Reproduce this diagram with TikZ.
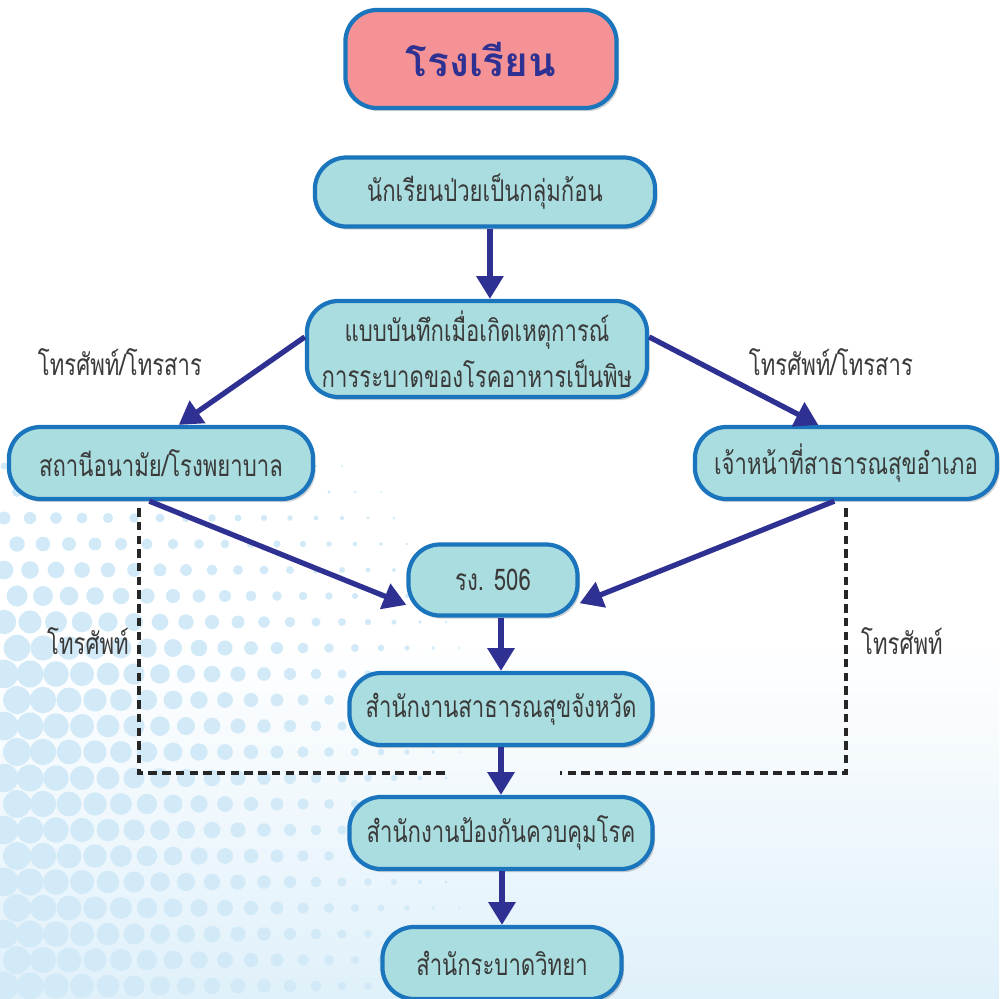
\documentclass[tikz,border=0pt]{standalone}
\usepackage{fontspec}
\setmainfont[Script=Thai, FakeStretch=0.74]{Loma}
\newfontfamily\titlefont[Script=Thai]{Loma}
\usetikzlibrary{arrows.meta,shadows}

\definecolor{boxfill}{HTML}{AADDDF}
\definecolor{boxline}{HTML}{1B75BC}
\definecolor{titlefill}{HTML}{F49295}
\definecolor{flowblue}{HTML}{2E3192}
\definecolor{dotblue}{HTML}{D2EAF8}
\definecolor{txtgray}{HTML}{3A3A3A}

\tikzset{
  box/.style={draw=boxline, line width=1.2pt, fill=boxfill, rounded corners=9pt,
    text=txtgray, font=\fontsize{8.5}{13}\selectfont, align=center, inner sep=0pt,
    drop shadow={opacity=0.35, shadow xshift=0.7pt, shadow yshift=-0.9pt}},
  titlebox/.style={box, fill=titlefill, text=flowblue, font=\titlefont\fontsize{11.5}{14}\selectfont\bfseries},
  flow/.style={draw=flowblue, line width=1.5pt, -{Triangle[length=6.5pt,width=7.5pt]}},
  phone/.style={draw=black!85, line width=0.9pt, dash pattern=on 2.4pt off 1.5pt},
  lbl/.style={text=txtgray, font=\fontsize{8.5}{11}\selectfont}
}

\begin{document}
\begin{tikzpicture}[x=0.01cm,y=-0.01cm]
\useasboundingbox (0,0) rectangle (999,999);
\shade[top color=white, bottom color=dotblue!70] (0,640) rectangle (999,999);
% halftone dots
\foreach \i in {0,...,19}{
  \foreach \j in {0,...,22}{
    \pgfmathsetmacro\x{\i*26+4+mod(\j,2)*13}
    \pgfmathsetmacro\y{414+\j*26}
    \pgfmathsetmacro\r{4.1*(1-\x/500)*min(1,max(0,(\y-400)/260))}
    \ifdim\r pt>0.3pt
      \fill[dotblue] (\x,\y) circle[radius=\r pt];
    \fi
  }
}

\node[titlebox, minimum width=2.71cm, minimum height=0.98cm] (school) at (481,59) {โรงเรียน};
\node[box, minimum width=3.40cm, minimum height=0.69cm] (sick) at (485,192) {นักเรียนป่วยเป็นกลุ่มก้อน};
\node[box, minimum width=3.40cm, minimum height=0.96cm] (form) at (477,349)
  {แบบบันทึกเมื่อเกิดเหตุการณ์\\การระบาดของโรคอาหารเป็นพิษ};
\node[box, minimum width=3.04cm, minimum height=0.72cm] (clinic) at (161,463) {สถานีอนามัย/โรงพยาบาล};
\node[box, minimum width=3.02cm, minimum height=0.72cm] (district) at (846,463) {เจ้าหน้าที่สาธารณสุขอำเภอ};
\node[box, minimum width=1.69cm, minimum height=0.71cm] (rs) at (493,580) {รง. 506};
\node[box, minimum width=3.03cm, minimum height=0.72cm] (province) at (501,709) {สำนักงานสาธารณสุขจังหวัด};
\node[box, minimum width=3.03cm, minimum height=0.72cm] (ddc) at (501,833) {สำนักงานป้องกันควบคุมโรค};
\node[box, minimum width=2.39cm, minimum height=0.72cm] (epid) at (502,963) {สำนักระบาดวิทยา};

\path ([xshift=1.4pt]sick.south) edge[flow] ([xshift=1.4pt]sick.south |- form.north);
\path (form.176) edge[flow] (clinic.65);
\path (form.4) edge[flow] (district.126);
\path (clinic.253) edge[flow] (rs.196);
\path (district.253) edge[flow] (rs.345);
\path (province.north |- rs.south) edge[flow] (province.north);
\path (province.south) edge[flow] (ddc.north);
\path (ddc.south -| epid.north) edge[flow] (epid.north);

\coordinate (lend) at (447,773);
\coordinate (rend) at (560,773);
\draw[phone] ([yshift=-2pt]clinic.240) |- (lend);
\draw[phone] ([yshift=-2pt]district.south) |- (rend);

\node[lbl] (lfax) at (120,362) {โทรศัพท์/โทรสาร};
\node[lbl] (rfax) at (831,362) {โทรศัพท์/โทรสาร};
\node[lbl] (ltel) at (88,641) {โทรศัพท์};
\node[lbl] (rtel) at (902,641) {โทรศัพท์};
\end{tikzpicture}
\end{document}
